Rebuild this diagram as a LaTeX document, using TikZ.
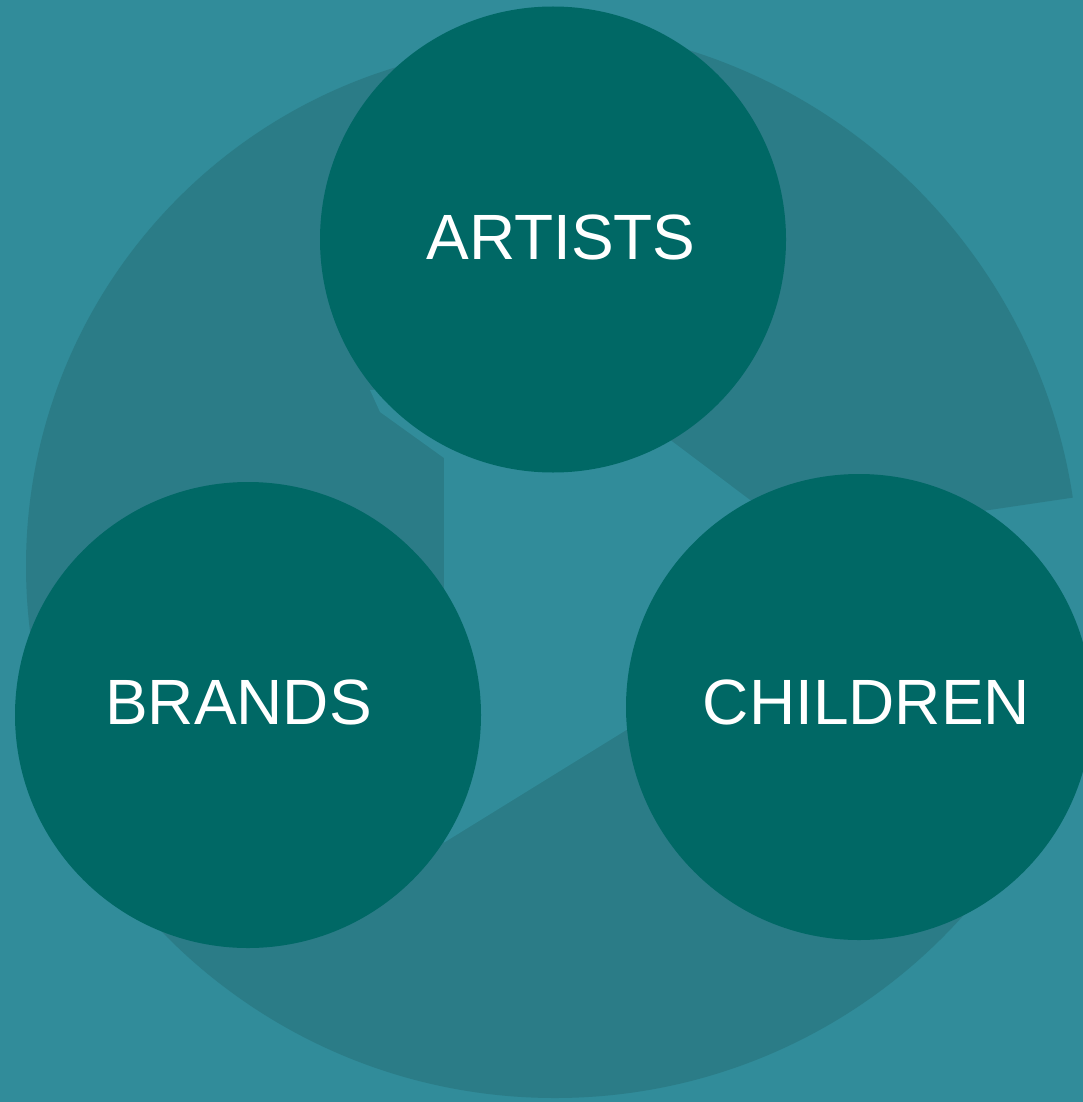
\documentclass[tikz,border=0pt]{standalone}
\usepackage{fontspec}
\setmainfont{Liberation Sans}
\definecolor{bgteal}{HTML}{318C9A}
\definecolor{ringteal}{HTML}{2B7C87}
\definecolor{nodeteal}{HTML}{006865}
\begin{document}
\begin{tikzpicture}[x=1pt,y=-1pt,
  hub/.style={circle, fill=nodeteal, draw=none, minimum size=466pt, inner sep=0pt},
  tag/.style={text=white, font=\fontsize{64}{70}\selectfont, anchor=base, inner sep=0pt}]
\useasboundingbox (0,0) rectangle (1083,1102);
\fill[bgteal] (0,0) rectangle (1083,1102);
\coordinate (C) at (550,575);
% left arc of the cycle
\begin{scope}
  \clip (C) -- (550,-100) -- (-200,-100) -- (-200,921) -- cycle;
  \fill[ringteal] (547,566) circle[radius=521pt];
\end{scope}
% right arc of the cycle
\begin{scope}
  \clip (C) -- (550,-100) -- (1300,-100) -- (1300,464) -- cycle;
  \fill[ringteal] (523,581) circle[radius=556pt];
\end{scope}
% lower arc of the cycle
\begin{scope}
  \clip (C) -- (-200,921) -- (-200,1300) -- (1300,1300) -- (1300,894) -- cycle;
  \fill[ringteal] (555,550) circle[radius=548pt];
\end{scope}
% open centre between the three arcs
\fill[bgteal] (444,269.6) -- (444,842.6) -- (862.1,584.4) -- cycle;
\fill[bgteal] (444,458) -- (380,412) -- (370,390) -- (444,385) -- cycle;
% the three hubs
\node[hub] (artists) at (553,239.5) {};
\node[hub] (brands) at (248,715) {};
\node[hub] (children) at (859,707) {};
\node[tag] (artistsT) at (561,259.5) {ARTISTS};
\node[tag] (brandsT) at (238.5,724) {BRANDS};
\node[tag] (childrenT) at (866.5,724) {CHILDREN};
\end{tikzpicture}
\end{document}
